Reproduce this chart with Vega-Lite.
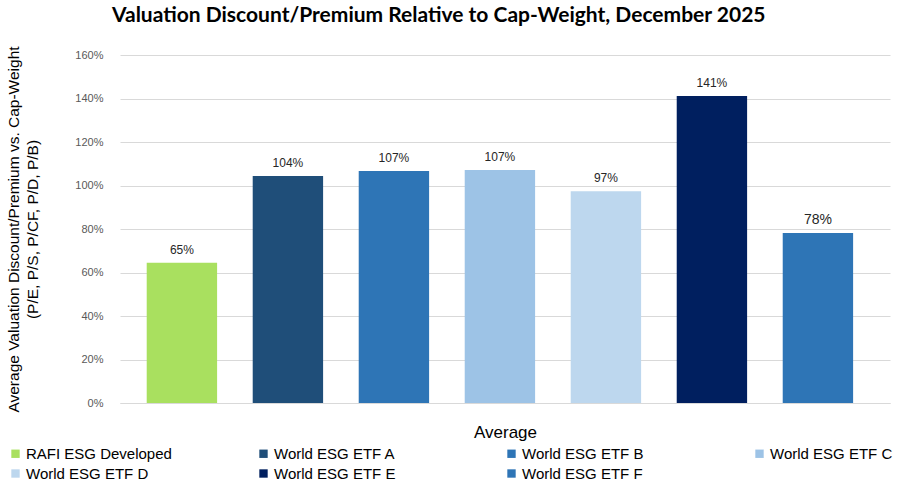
{
  "$schema": "https://vega.github.io/schema/vega-lite/v6.json",
  "width": 770,
  "height": 348,
  "autosize": {"type": "none"},
  "padding": {"left": 120, "top": 55, "right": 14, "bottom": 80},
  "background": "white",
  "config": {"view": {"stroke": null}},
  "title": {
    "text": "Valuation Discount/Premium Relative to Cap-Weight, December 2025",
    "font": "Lato",
    "fontSize": 21,
    "fontWeight": "bold",
    "color": "#000000",
    "anchor": "start",
    "frame": "group",
    "dx": -8,
    "offset": 20
  },
  "data": {
    "values": [
      {"category": "Average", "series": "RAFI ESG Developed", "value": 0.645},
      {"category": "Average", "series": "World ESG ETF A", "value": 1.044},
      {"category": "Average", "series": "World ESG ETF B", "value": 1.067},
      {"category": "Average", "series": "World ESG ETF C", "value": 1.071},
      {"category": "Average", "series": "World ESG ETF D", "value": 0.973},
      {"category": "Average", "series": "World ESG ETF E", "value": 1.411},
      {"category": "Average", "series": "World ESG ETF F", "value": 0.782}
    ]
  },
  "encoding": {
    "x": {
      "field": "series",
      "type": "nominal",
      "sort": null,
      "scale": {"paddingInner": 0.336, "paddingOuter": 0.3, "align": 0.42},
      "axis": {
        "title": "Average",
        "titleFont": "Liberation Sans",
        "titleFontSize": 17,
        "titleFontWeight": "normal",
        "titleColor": "#000000",
        "titlePadding": 21,
        "labels": false,
        "ticks": false,
        "domain": true,
        "domainColor": "#d9d9d9",
        "domainWidth": 1
      }
    },
    "y": {
      "field": "value",
      "type": "quantitative",
      "scale": {"domain": [0, 1.6], "nice": false},
      "axis": {
        "values": [0, 0.2, 0.4, 0.6, 0.8, 1.0, 1.2, 1.4, 1.6],
        "format": ".0%",
        "title": ["Average Valuation Discount/Premium vs. Cap-Weight", "(P/E, P/S, P/CF, P/D, P/B)"],
        "titleFont": "Liberation Sans",
        "titleFontSize": 15.5,
        "titleFontWeight": "normal",
        "titleColor": "#000000",
        "titleX": -102,
        "titleY": 174,
        "titleAlign": "center",
        "titleBaseline": "alphabetic",
        "titleLineHeight": 19,
        "labelFont": "Liberation Sans",
        "labelFontSize": 11,
        "labelColor": "#595959",
        "labelPadding": 17,
        "ticks": false,
        "domain": false,
        "grid": true,
        "gridColor": "#d9d9d9",
        "gridWidth": 1
      }
    }
  },
  "layer": [
    {
      "mark": {"type": "bar"},
      "encoding": {
        "color": {
          "field": "series",
          "type": "nominal",
          "sort": null,
          "scale": {
            "domain": ["RAFI ESG Developed", "World ESG ETF A", "World ESG ETF B", "World ESG ETF C", "World ESG ETF D", "World ESG ETF E", "World ESG ETF F"],
            "range": ["#a9e05f", "#1f4e79", "#2e75b6", "#9dc3e6", "#bdd7ee", "#001f5f", "#2e75b6"]
          },
          "legend": {
            "title": null,
            "orient": "none",
            "legendX": -112,
            "legendY": 391,
            "direction": "horizontal",
            "columns": 4,
            "gridAlign": "all",
            "columnPadding": 84,
            "rowPadding": 4,
            "symbolType": "square",
            "symbolSize": 70,
            "symbolStrokeWidth": 0,
            "labelFont": "Liberation Sans",
            "labelFontSize": 15,
            "labelColor": "#000000",
            "labelOffset": 3,
            "labelLimit": 300
          }
        }
      }
    },
    {
      "mark": {"type": "text", "baseline": "bottom", "dy": -6, "font": "Liberation Sans", "color": "#262626"},
      "encoding": {
        "text": {"field": "value", "type": "quantitative", "format": ".0%"},
        "size": {
          "condition": {"test": "datum.series === 'World ESG ETF F'", "value": 14},
          "value": 12
        }
      }
    }
  ]
}
